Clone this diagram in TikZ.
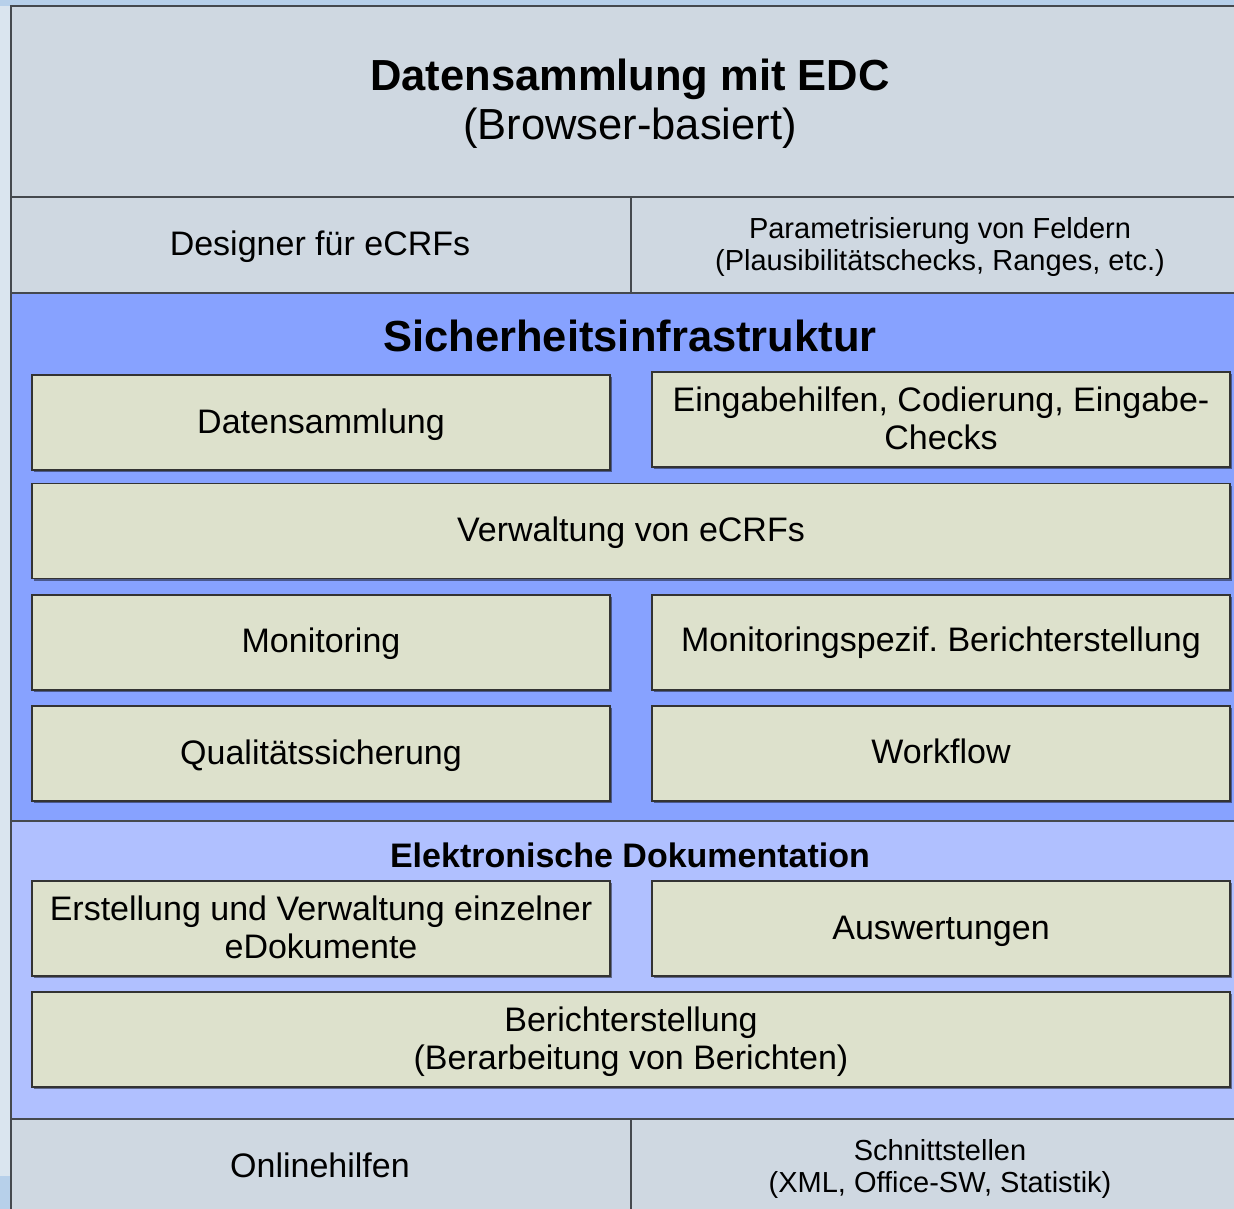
\documentclass[tikz,border=0pt]{standalone}
\usepackage{fontspec}
\setmainfont{Liberation Sans}
\frenchspacing
\usetikzlibrary{shadows}
\definecolor{panelgray}{HTML}{CFD8E1}
\definecolor{secblue}{HTML}{87A2FF}
\definecolor{seclight}{HTML}{B0C0FF}
\definecolor{boxfill}{HTML}{DDE1CC}
\definecolor{bgleft}{HTML}{DAE5EF}
\definecolor{bgtop}{HTML}{B7D0EA}
\definecolor{edge}{HTML}{45494E}
\tikzset{
  panel/.style={draw=edge, line width=2pt},
  boxnode/.style={draw=black!80, line width=1.4pt, fill=boxfill, inner sep=0pt,
    align=center, font=\fontsize{34}{37.5}\selectfont,
    drop shadow={shadow xshift=1.5pt, shadow yshift=-2pt, opacity=0.45, fill=black}},
  halfbox/.style={boxnode, minimum width=578pt, minimum height=95pt},
  fullbox/.style={boxnode, minimum width=1198pt, minimum height=95pt},
  big/.style={font=\fontsize{43.5}{49}\selectfont, align=center, inner sep=0pt},
  mid/.style={font=\fontsize{34}{37.5}\selectfont, align=center, inner sep=0pt},
  small/.style={font=\fontsize{29}{32.5}\selectfont, align=center, inner sep=0pt},
}
\begin{document}
\begin{tikzpicture}[x=1pt,y=-1pt]
\useasboundingbox (0,0) rectangle (1234,1209);
% background
\fill[bgleft] (0,0) rectangle (1234,1209);
\fill[bgtop] (0,0) rectangle (1234,6);
\fill[bgtop] (0,1176) rectangle (11,1209);
% panels
\fill[panelgray] (11,6) rectangle (1240,293);
\fill[secblue] (11,293) rectangle (1240,821);
\fill[seclight] (11,821) rectangle (1240,1119);
\fill[panelgray] (11,1119) rectangle (1240,1215);
\draw[panel] (1240,6) -- (11,6) -- (11,1215);
\draw[panel] (11,197) -- (1240,197);
\draw[panel] (11,293) -- (1240,293);
\draw[panel] (11,821) -- (1240,821);
\draw[panel] (11,1119) -- (1240,1119);
\draw[panel] (631,197) -- (631,293);
\draw[panel] (631,1119) -- (631,1215);
% texts in panels
\node[big] (title) at (630,104) {\textbf{Datensammlung mit EDC}\\(Browser-basiert)};
\node[mid] (designer) at (320,247) {Designer für eCRFs};
\node[small] (param) at (940,247) {Parametrisierung von Feldern\\(Plausibilitätschecks, Ranges, etc.)};
\node[big, font=\bfseries\fontsize{43.5}{49}\selectfont] (sicher) at (630,336) {Sicherheitsinfrastruktur};
\node[mid, font=\bfseries\fontsize{34}{37.5}\selectfont] (elek) at (630,855) {Elektronische Dokumentation};
\node[mid] (online) at (320,1165) {Onlinehilfen};
\node[small] (schnitt) at (940,1169) {Schnittstellen\\(XML, Office-SW, Statistik)};
% boxes
\node[halfbox] (dsamm) at (321,422.5) {};
\node[mid] (dsammt) at (321,424.5) {Datensammlung};
\node[halfbox] (eingabe) at (941,419.5) {};
\node[mid] (eingabet) at (941,418.5) {Eingabehilfen, Codierung, Eingabe-\\Checks};
\node[fullbox] (verw) at (631,531) {};
\node[mid] (verwt) at (631,533) {Verwaltung von eCRFs};
\node[halfbox] (monit) at (321,642.5) {};
\node[mid] (monitt) at (321,643.5) {Monitoring};
\node[halfbox] (monber) at (941,642.5) {};
\node[mid] (monbert) at (941,643) {Monitoringspezif. Berichterstellung};
\node[halfbox] (quali) at (321,753.5) {};
\node[mid] (qualit) at (321,755.5) {Qualitätssicherung};
\node[halfbox] (workflow) at (941,753.5) {};
\node[mid] (workflowt) at (941,751.5) {Workflow};
\node[halfbox] (erst) at (321,928.5) {};
\node[mid] (erstt) at (321,927.5) {Erstellung und Verwaltung einzelner\\eDokumente};
\node[halfbox] (ausw) at (941,928.5) {};
\node[mid] (auswt) at (941,931.5) {Auswertungen};
\node[fullbox] (bericht) at (631,1039.5) {};
\node[mid] (berichtt) at (631,1041.5) {Berichterstellung\\(Berarbeitung von Berichten)};
\end{tikzpicture}
\end{document}
